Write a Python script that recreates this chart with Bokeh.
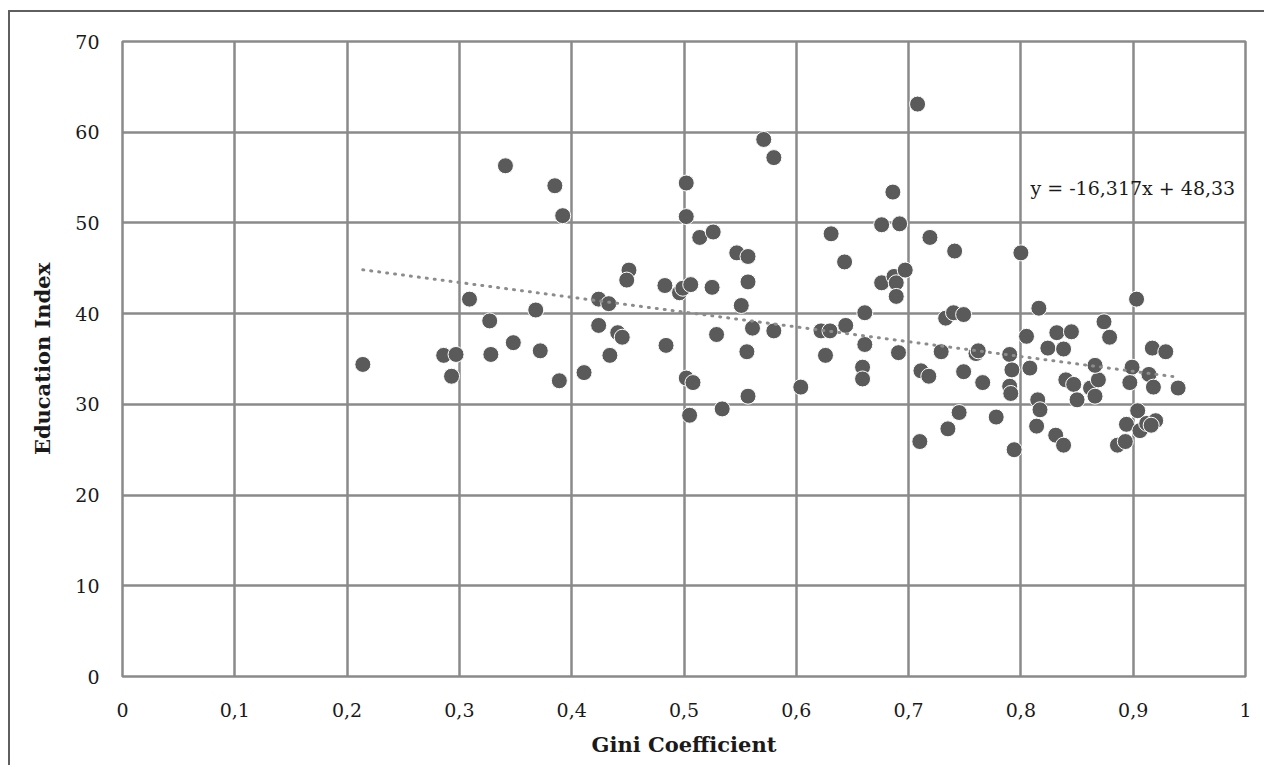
from bokeh.plotting import figure
from bokeh.models import ColumnDataSource, FixedTicker, Label
from bokeh.embed import file_html
from bokeh.resources import INLINE

# ---- data ----
gini = [0.214, 0.286, 0.297, 0.293, 0.309, 0.341, 0.327, 0.328, 0.348, 0.368,
        0.372, 0.385, 0.392, 0.389, 0.411, 0.424, 0.433, 0.424, 0.441, 0.445,
        0.434, 0.451, 0.449, 0.483, 0.484, 0.496, 0.499, 0.502, 0.502, 0.506,
        0.502, 0.508, 0.505, 0.514, 0.526, 0.525, 0.529, 0.534, 0.547, 0.557,
        0.557, 0.551, 0.561, 0.556, 0.557, 0.571, 0.580, 0.580, 0.604, 0.622,
        0.626, 0.630, 0.631, 0.643, 0.644, 0.661, 0.661, 0.659, 0.659, 0.676,
        0.692, 0.686, 0.708, 0.676, 0.687, 0.689, 0.689, 0.697, 0.691, 0.719,
        0.711, 0.718, 0.710, 0.741, 0.733, 0.740, 0.749, 0.729, 0.760, 0.762,
        0.749, 0.766, 0.745, 0.735, 0.778, 0.800, 0.790, 0.792, 0.790, 0.791,
        0.794, 0.805, 0.816, 0.808, 0.815, 0.817, 0.814, 0.831, 0.838, 0.824,
        0.832, 0.845, 0.838, 0.840, 0.847, 0.850, 0.862, 0.869, 0.866, 0.866,
        0.874, 0.879, 0.903, 0.899, 0.897, 0.904, 0.894, 0.906, 0.912, 0.920,
        0.916, 0.886, 0.893, 0.917, 0.929, 0.914, 0.918, 0.940]
edu = [34.4, 35.4, 35.5, 33.1, 41.6, 56.3, 39.2, 35.5, 36.8, 40.4,
       35.9, 54.1, 50.8, 32.6, 33.5, 41.6, 41.1, 38.7, 37.9, 37.4,
       35.4, 44.8, 43.7, 43.1, 36.5, 42.3, 42.8, 54.4, 50.7, 43.2,
       32.9, 32.4, 28.8, 48.4, 49.0, 42.9, 37.7, 29.5, 46.7, 46.3,
       43.5, 40.9, 38.4, 35.8, 30.9, 59.2, 57.2, 38.1, 31.9, 38.1,
       35.4, 38.1, 48.8, 45.7, 38.7, 40.1, 36.6, 34.1, 32.8, 49.8,
       49.9, 53.4, 63.1, 43.4, 44.1, 43.4, 41.9, 44.8, 35.7, 48.4,
       33.7, 33.1, 25.9, 46.9, 39.5, 40.1, 39.9, 35.8, 35.6, 35.9,
       33.6, 32.4, 29.1, 27.3, 28.6, 46.7, 35.5, 33.8, 32.0, 31.2,
       25.0, 37.5, 40.6, 34.0, 30.5, 29.4, 27.6, 26.6, 25.5, 36.2,
       37.9, 38.0, 36.1, 32.7, 32.2, 30.5, 31.8, 32.7, 30.9, 34.3,
       39.1, 37.4, 41.6, 34.1, 32.4, 29.3, 27.8, 27.1, 27.9, 28.2,
       27.7, 25.5, 25.9, 36.2, 35.8, 33.3, 31.9, 31.8]

trend_slope = -16.317
trend_intercept = 48.33
trend_label = "y = -16,317x + 48,33"

x_ticks = [0, 0.1, 0.2, 0.3, 0.4, 0.5, 0.6, 0.7, 0.8, 0.9, 1]
x_tick_labels = ["0", "0,1", "0,2", "0,3", "0,4", "0,5", "0,6", "0,7", "0,8", "0,9", "1"]
y_ticks = [0, 10, 20, 30, 40, 50, 60, 70]

x_title = "Gini Coefficient"
y_title = "Education Index"

# ---- figure ----
FONT = "DejaVu Serif"
GRID = "#8a8a8a"

p = figure(width=1256, height=755, x_range=(0, 1), y_range=(0, 70),
           output_backend="svg", toolbar_location=None,
           min_border_left=112, min_border_right=21,
           min_border_top=29, min_border_bottom=91,
           background_fill_color="white", border_fill_color="white")
p.styles = {"border-left": "2px solid #5f5f5f", "border-top": "2px solid #5f5f5f",
            "margin-left": "8px", "margin-top": "10px"}

p.outline_line_color = GRID
p.outline_line_width = 2.5

for ax in (p.xaxis, p.yaxis):
    ax.axis_line_color = None
    ax.major_tick_line_color = None
    ax.minor_tick_line_color = None
    ax.major_label_text_font = FONT
    ax.major_label_text_font_size = "19px"
    ax.major_label_text_color = "#1a1a1a"
    ax.axis_label_text_font = FONT
    ax.axis_label_text_font_size = "21px"
    ax.axis_label_text_font_style = "bold"
    ax.axis_label_text_color = "#1a1a1a"

p.xaxis.ticker = FixedTicker(ticks=x_ticks)
p.xaxis.major_label_overrides = {t: l for t, l in zip(x_ticks, x_tick_labels)}
p.yaxis.ticker = FixedTicker(ticks=y_ticks)
p.xaxis.major_label_standoff = 20
p.yaxis.major_label_standoff = 17
p.xaxis.axis_label = x_title
p.yaxis.axis_label = y_title
p.xaxis.axis_label_standoff = 12
p.yaxis.axis_label_standoff = 17

p.xgrid.grid_line_color = GRID
p.ygrid.grid_line_color = GRID
p.xgrid.grid_line_width = 2.5
p.ygrid.grid_line_width = 2.5
p.xgrid.ticker = FixedTicker(ticks=x_ticks)
p.ygrid.ticker = FixedTicker(ticks=y_ticks)

src = ColumnDataSource(dict(x=gini, y=edu))
p.scatter("x", "y", source=src, size=16, fill_color="#5a5a5a",
          line_color="white", line_width=1)

# trend line (linear fit given by the equation on the chart)
tx = [min(gini), max(gini)]
ty = [trend_slope * v + trend_intercept for v in tx]
p.line(tx, ty, line_color="#8c8c8c", line_width=3, line_dash="1 7",
       line_cap="round")

p.add_layout(Label(x=0.8085, y=53.9, text=trend_label, text_font=FONT,
                   text_font_size="19px", text_color="#1a1a1a",
                   text_baseline="middle", text_align="left"))

open("out.html", "w").write(file_html(p, INLINE))
